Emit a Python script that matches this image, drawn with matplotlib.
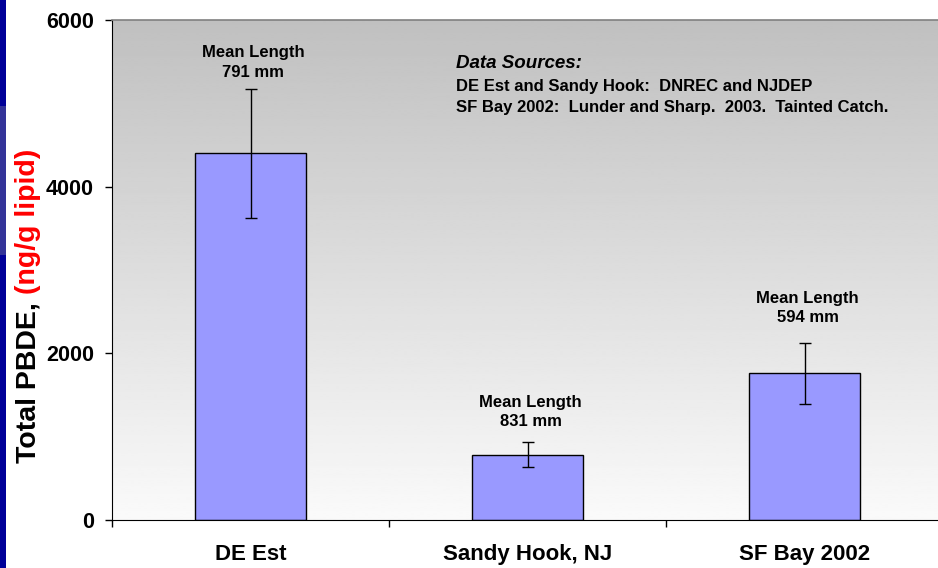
import numpy as np
import matplotlib
matplotlib.use("Agg")
import matplotlib.pyplot as plt
from matplotlib.patches import Rectangle

plt.rcParams['font.family'] = ['Liberation Sans', 'DejaVu Sans']
plt.rcParams['font.weight'] = 'bold'

# ---- data ----
categories = ["DE Est", "Sandy Hook, NJ", "SF Bay 2002"]
pbde_values = [4400, 785, 1760]
pbde_errors = [772, 150, 368]
mean_lengths = ["791 mm", "831 mm", "594 mm"]
y_ticks = [0, 2000, 4000, 6000]
source_lines = ["DE Est and Sandy Hook:  DNREC and NJDEP",
                "SF Bay 2002:  Lunder and Sharp.  2003.  Tainted Catch."]

# layout (data-unit heights of the "Mean Length" annotations)
label_y = [5490, 1296, 2544]

W, H = 938, 568
fig = plt.figure(figsize=(W / 100, H / 100), dpi=100)
fig.patch.set_facecolor('white')

# left slide strip
fig.patches.append(Rectangle((0, 0), 6 / W, 1, transform=fig.transFigure,
                             facecolor='#000099', edgecolor='none', zorder=0))
fig.patches.append(Rectangle((0, (H - 255) / H), 6 / W, (255 - 106) / H,
                             transform=fig.transFigure, facecolor='#333399',
                             edgecolor='none', zorder=1))

ax = fig.add_axes([112 / W, (H - 520) / H, (943.5 - 112) / W, 500 / H])
x = np.arange(len(categories))

# gradient background
grad = np.linspace(192 / 255, 250 / 255, 256).reshape(-1, 1)
ax.imshow(grad, extent=[-0.5, 2.5, 0, 6000], aspect='auto', cmap='gray',
          vmin=0, vmax=1, zorder=0, interpolation='bilinear')

ax.bar(x, pbde_values, width=0.4, color='#9999ff', edgecolor='black',
       linewidth=1.0, zorder=2)
ax.errorbar(x, pbde_values, yerr=pbde_errors, fmt='none', ecolor='black',
            elinewidth=1.0, capsize=4, capthick=1.0, zorder=3)

for xi, yi, ml in zip(x, label_y, mean_lengths):
    ax.text(xi + 0.01, yi, "Mean Length\n" + ml, ha='center', va='center',
            fontsize=12, fontweight='bold', linespacing=1.4, zorder=4)

ax.set_xlim(-0.5, 2.5)
ax.set_ylim(0, 6000)
ax.set_yticks(y_ticks)
ax.set_yticklabels([str(v) for v in y_ticks], fontsize=15.5, fontweight='bold')
ax.set_xticks(x)
ax.set_xticklabels(categories, fontsize=16, fontweight='bold')
ax.set_xticks([-0.5, 0.5, 1.5], minor=True)
ax.tick_params(axis='x', which='major', length=0, pad=17)
ax.tick_params(axis='x', which='minor', length=5, width=1, direction='out')
ax.tick_params(axis='y', which='major', length=5, width=1, direction='out', pad=8)

ax.spines['right'].set_visible(False)
ax.spines['top'].set_color('#808080')
ax.spines['top'].set_linewidth(1.2)
ax.spines['left'].set_color('black')
ax.spines['bottom'].set_color('black')

# data sources
fig.text(456 / W, (H - 64) / H, "Data Sources:", ha='left', va='center',
         fontsize=13.5, fontweight='bold', style='italic')
for i, line in enumerate(source_lines):
    fig.text(456 / W, (H - (86 + 21.5 * i)) / H, line, ha='left', va='center',
             fontsize=12, fontweight='bold')

# y label in two colours
t1 = fig.text(35 / W, (H - 463) / H, "Total PBDE, ", rotation=90,
              rotation_mode='anchor', ha='left', va='baseline',
              fontsize=20.5, fontweight='bold', color='black')
fig.canvas.draw()
bb = t1.get_window_extent(renderer=fig.canvas.get_renderer())
top_y = bb.y1 / fig.dpi / fig.get_figheight()
fig.text(35 / W, top_y, "(ng/g lipid)", rotation=90,
         rotation_mode='anchor', ha='left', va='baseline',
         fontsize=20.5, fontweight='bold', color='#ff0000')

fig.savefig("out.png", dpi=100)
